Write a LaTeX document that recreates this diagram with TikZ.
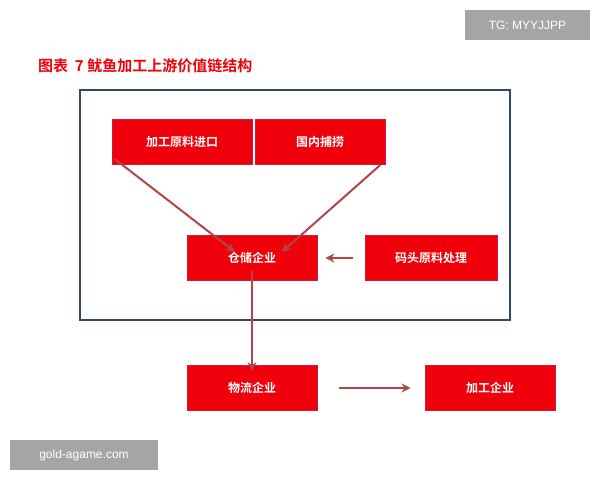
\documentclass[tikz,border=0pt]{standalone}
\usepackage{fontspec}
\newfontfamily\cjk{Noto Sans CJK SC}
\newfontfamily\cjkb{Noto Sans CJK SC Bold}
\setmainfont{Liberation Sans}
\usetikzlibrary{arrows.meta}
\definecolor{boxred}{RGB}{240,0,10}
\definecolor{arrowred}{RGB}{176,70,70}
\definecolor{frameblue}{RGB}{50,70,110}
\definecolor{wm}{RGB}{165,165,165}
\tikzset{
  redbox/.style={fill=boxred, draw={rgb,255:red,200;green,30;blue,60}, line width=0.8pt, minimum width=130pt, minimum height=45pt, inner sep=0pt, text=white, font=\cjkb\fontsize{12}{14}\selectfont},
  conn/.style={draw=arrowred, line width=2pt, -{Stealth[length=9pt,width=9pt]}},
  line/.style={draw=arrowred, line width=2pt},
  wmbox/.style={fill=wm, text=white, inner sep=0pt, font=\fontsize{12}{14}\selectfont}
}
\begin{document}
\begin{tikzpicture}[x=1pt,y=-1pt]
\useasboundingbox[fill=white] (0,0) rectangle (600,480);
\node[wmbox, minimum width=125pt, minimum height=30pt] (tg) at (527.5,25) {TG: MYYJJPP};
\node[wmbox, minimum width=148pt, minimum height=30pt] (gold) at (84,455) {gold-agame.com};
\node[anchor=west, text=boxred, font=\cjkb\fontsize{15}{17}\selectfont, inner sep=0pt] (title) at (38,66) {图表\ \ 7 鱿鱼加工上游价值链结构};
\node[draw=frameblue, line width=1.5pt, minimum width=430pt, minimum height=230pt, inner sep=0pt] (frame) at (295,205) {};
\node[redbox, minimum width=140pt] (a) at (182,142) {加工原料进口};
\node[redbox] (b) at (320,142) {国内捕捞};
\node[redbox] (c) at (252,258) {仓储企业};
\node[redbox, minimum width=132pt] (d) at (431,258) {码头原料处理};
\node[redbox] (e) at (252,388) {物流企业};
\node[redbox] (f) at (490,388) {加工企业};
\coordinate (ct1) at (235,252);
\coordinate (ct2) at (282,252);
\draw[conn] (a.south west) ++(3,-6) -- (ct1);
\draw[conn] (b.south east) ++(-5,0) -- (ct2);
\draw[conn] (d.west) ++(-12,0) -- ([xshift=8pt]c.east);
\draw[conn] ([yshift=10pt]c.south) -- ([yshift=-6pt]e.north);
\draw[conn] ([xshift=22pt]e.east) -- ([xshift=-14pt]f.west);
\end{tikzpicture}
\end{document}
